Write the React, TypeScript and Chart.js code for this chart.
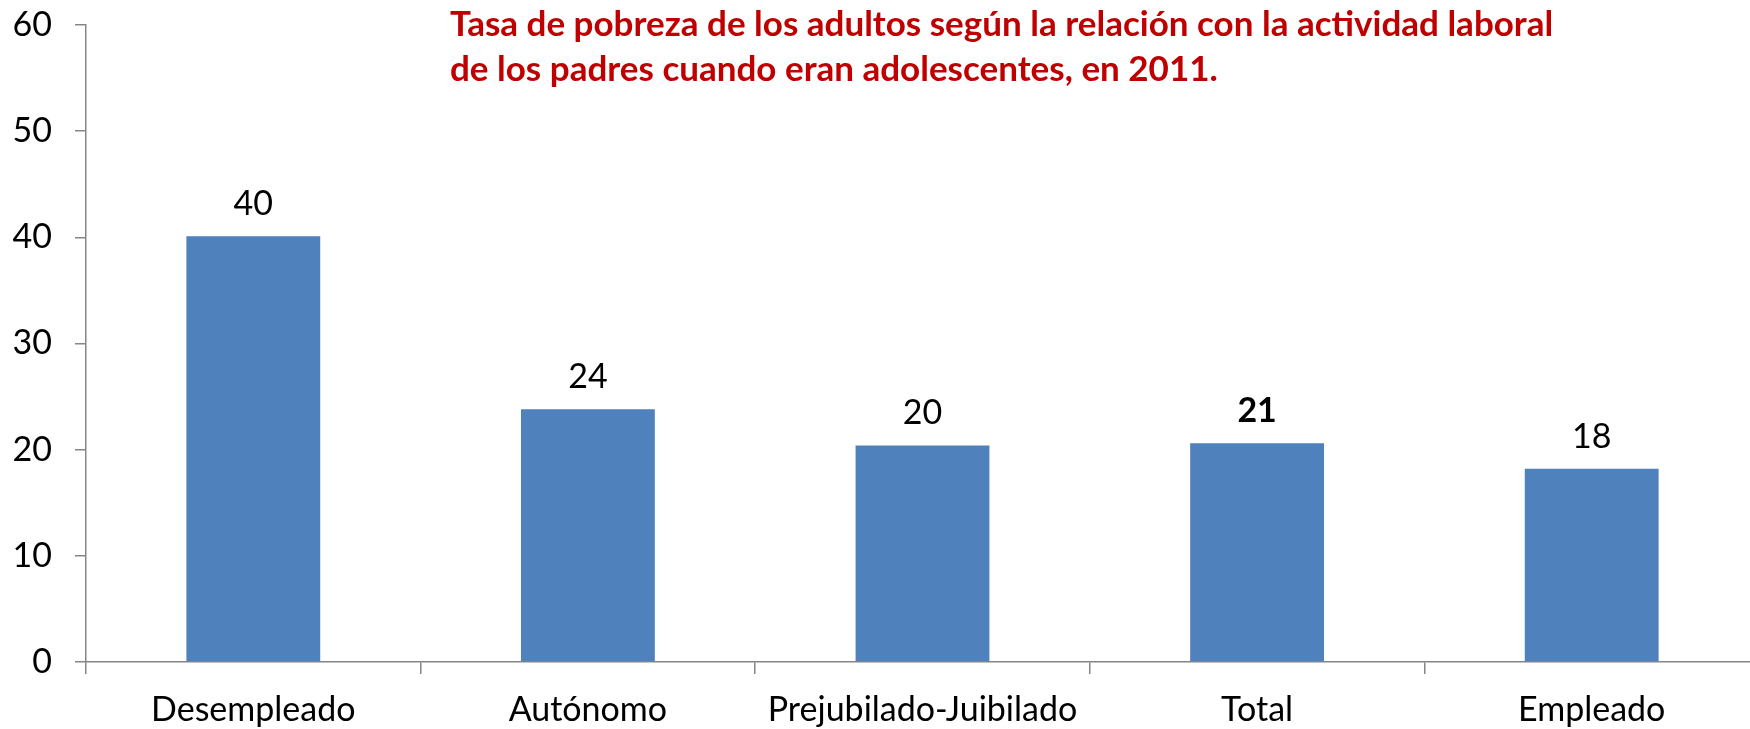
import React, { useEffect, useRef } from "react";
import { Chart, registerables } from "chart.js";

Chart.register(...registerables);

const categories = ["Desempleado", "Autónomo", "Prejubilado-Juibilado", "Total", "Empleado"];
const values = [40.1, 23.8, 20.4, 20.6, 18.2];
const valueLabels = ["40", "24", "20", "21", "18"];
const boldLabels = [false, false, false, true, false];
const titleLines = [
  "Tasa de pobreza de los adultos según la relación con la actividad laboral",
  "de los padres cuando eran adolescentes, en 2011.",
];
const yMin = 0;
const yMax = 60;
const yStep = 10;

const FONT = "Lato, 'Open Sans', sans-serif";
const AXIS_COLOR = "#868686";
const BAR_COLOR = "#4F81BD";
const TEXT_SIZE = 34;

const valueLabelPlugin = {
  id: "valueLabels",
  afterDatasetsDraw(chart: any) {
    const ctx = chart.ctx;
    const meta = chart.getDatasetMeta(0);
    ctx.save();
    ctx.textAlign = "center";
    ctx.textBaseline = "middle";
    ctx.fillStyle = "#000000";
    meta.data.forEach((bar: any, i: number) => {
      ctx.font = `${boldLabels[i] ? "bold " : ""}${TEXT_SIZE}px ${FONT}`;
      ctx.fillText(valueLabels[i], bar.x, bar.y - 32);
    });
    ctx.restore();
  },
};

export default function App() {
  const canvasRef = useRef<HTMLCanvasElement | null>(null);

  useEffect(() => {
    if (!canvasRef.current) return;
    const chart = new Chart(canvasRef.current, {
      type: "bar",
      data: {
        labels: categories,
        datasets: [
          {
            data: values,
            backgroundColor: BAR_COLOR,
            borderWidth: 0,
            categoryPercentage: 0.8,
            barPercentage: 0.5,
          },
        ],
      },
      options: {
        responsive: false,
        animation: false,
        devicePixelRatio: 1,
        layout: { padding: { top: 25, right: 0, left: 0, bottom: 0 } },
        plugins: {
          legend: { display: false },
          tooltip: { enabled: false },
          title: { display: false },
        },
        scales: {
          x: {
            offset: true,
            grid: {
              offset: true,
              drawOnChartArea: false,
              drawTicks: true,
              tickLength: 12,
              color: AXIS_COLOR,
              lineWidth: 1.5,
            },
            border: { display: true, color: AXIS_COLOR, width: 1.5 },
            ticks: {
              color: "#000000",
              font: { family: FONT, size: TEXT_SIZE },
              padding: 16,
              maxRotation: 0,
              autoSkip: false,
            },
            afterFit(scale: any) {
              scale.height = 67;
            },
          },
          y: {
            min: yMin,
            max: yMax,
            grid: {
              drawOnChartArea: false,
              drawTicks: true,
              tickLength: 11,
              color: AXIS_COLOR,
              lineWidth: 1.5,
            },
            border: { display: true, color: AXIS_COLOR, width: 1.5 },
            ticks: {
              stepSize: yStep,
              color: "#000000",
              font: { family: FONT, size: TEXT_SIZE, lineHeight: 0.05 },
              padding: 23,
            },
            afterFit(scale: any) {
              scale.width = 86;
            },
          },
        },
      },
      plugins: [valueLabelPlugin],
    });
    return () => chart.destroy();
  }, []);

  return (
    <div
      style={{
        position: "fixed",
        left: 0,
        top: 0,
        width: 1750,
        height: 729,
        overflow: "hidden",
        background: "#ffffff",
      }}
    >
      <canvas
        ref={canvasRef}
        width={1759}
        height={729}
        style={{ position: "absolute", left: 0, top: 0, width: 1759, height: 729 }}
      />
      <div
        style={{
          position: "absolute",
          left: 450,
          top: 0,
          fontFamily: FONT,
          fontWeight: "bold",
          fontSize: 35,
          lineHeight: "45px",
          color: "#C00000",
          whiteSpace: "nowrap",
        }}
      >
        {titleLines.map((l, i) => (
          <div key={i}>{l}</div>
        ))}
      </div>
    </div>
  );
}
